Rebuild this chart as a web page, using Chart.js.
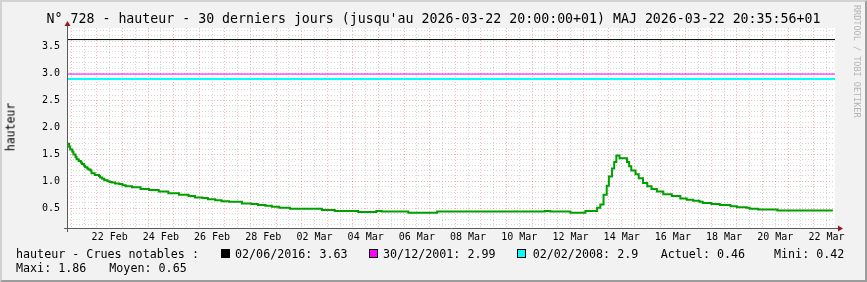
<!DOCTYPE html>
<html>
<head>
<meta charset="utf-8">
<script src="https://cdn.jsdelivr.net/npm/chart.js@4.4.1/dist/chart.umd.min.js"></script>
<style>
  html, body { margin: 0; padding: 0; background: #f2f2f2; }
  #wrap { position: relative; width: 867px; height: 282px; background: #f2f2f2; overflow: hidden;
          font-family: "DejaVu Sans Mono", monospace; color: #000; }
  #c { position: absolute; left: 0; top: 0; }
  .frame { position: absolute; left: 0; top: 0; width: 867px; height: 282px; box-sizing: border-box;
           border-top: 2px solid #d2d2d2; border-left: 2px solid #d2d2d2;
           border-right: 2px solid #9c9c9c; border-bottom: 2px solid #9c9c9c; pointer-events: none; }
  .title { position: absolute; left: 0; top: 11px; width: 867px; text-align: center;
           font-size: 13.25px; line-height: 15px; white-space: pre; }
  .ylab { position: absolute; left: 11px; top: 127px; font-size: 11.5px; line-height: 13px;
          transform: translate(-50%, -50%) rotate(-90deg); white-space: pre; }
  .mark { position: absolute; left: 852px; top: 5px; font-size: 8.5px; color: #b4b4b4;
          writing-mode: vertical-rl; white-space: pre; }
  .leg { position: absolute; font-size: 11.7px; line-height: 14px; white-space: pre; }
  .box { position: absolute; width: 9px; height: 9px; box-sizing: border-box; border: 1px solid #000; }
</style>
</head>
<body>
<div id="wrap">
  <canvas id="c" width="867" height="282"></canvas>
  <div class="title">N° 728 - hauteur - 30 derniers jours (jusqu'au 2026-03-22 20:00:00+01) MAJ 2026-03-22 20:35:56+01</div>
  <div class="ylab">hauteur</div>
  <div class="mark">RRDTOOL / TOBI OETIKER</div>
  <div id="legend"></div>
  <div class="frame"></div>
</div>
<script>
// --- DATA (hours since 2026-02-20 20:00) ---
const hours = [
  0, 2, 3, 5, 6, 8, 9, 11, 13, 14,
  16, 17, 19, 20, 22, 23, 26, 30, 31, 33,
  35, 38, 40, 42, 45, 49, 52, 55, 61, 69,
  77, 86, 95, 105, 114, 120, 127, 132, 139, 145,
  152, 164, 173, 179, 186, 192, 199, 209, 239, 251,
  273, 290, 295, 320, 347, 448, 453, 472, 486, 497,
  500, 503, 506, 508, 511, 513, 515, 518, 525, 527,
  529, 533, 536, 540, 544, 548, 553, 559, 567, 575,
  581, 587, 593, 596, 604, 612, 622, 628, 637, 640,
  648, 666, 692, 718
];
const hauteur = [
  1.78, 1.70, 1.64, 1.59, 1.55, 1.50, 1.45, 1.41, 1.38, 1.35,
  1.32, 1.29, 1.26, 1.24, 1.22, 1.20, 1.15, 1.12, 1.10, 1.07,
  1.05, 1.02, 1.00, 0.99, 0.98, 0.96, 0.95, 0.93, 0.91, 0.89,
  0.86, 0.84, 0.81, 0.78, 0.75, 0.73, 0.70, 0.69, 0.67, 0.65,
  0.63, 0.62, 0.59, 0.58, 0.56, 0.55, 0.53, 0.51, 0.49, 0.47,
  0.45, 0.43, 0.45, 0.44, 0.42, 0.44, 0.45, 0.44, 0.42, 0.45,
  0.51, 0.57, 0.75, 0.92, 1.09, 1.24, 1.36, 1.48, 1.43, 1.36,
  1.28, 1.20, 1.13, 1.06, 0.97, 0.91, 0.86, 0.81, 0.76, 0.73,
  0.68, 0.66, 0.64, 0.62, 0.60, 0.58, 0.56, 0.54, 0.52, 0.51,
  0.49, 0.48, 0.46, 0.46
];

// notable floods (horizontal rules)
const crueDates = ['02/06/2016', '30/12/2001', '02/02/2008'];
const crueValues = [3.63, 2.99, 2.9];
const crueColors = ['#000000', '#ff00ff', '#00ffff'];

const xLabels = ['22 Feb', '24 Feb', '26 Feb', '28 Feb', '02 Mar', '04 Mar', '06 Mar', '08 Mar',
                 '10 Mar', '12 Mar', '14 Mar', '16 Mar', '18 Mar', '20 Mar', '22 Mar'];

const actuel = 0.46, mini = 0.42, maxi = 1.86, moyen = 0.65;

// =========================================================
// LEGEND (html text)
// =========================================================
const legend = document.getElementById('legend');
function addText(txt, x, y) {
  const d = document.createElement('div');
  d.className = 'leg';
  d.style.left = x + 'px';
  d.style.top = y + 'px';
  d.textContent = txt;
  legend.appendChild(d);
}
const boxX = [221, 369, 517];
const crueTextX = [235, 383, 532.7];
addText('hauteur - Crues notables :', 16, 247);
crueDates.forEach((d, i) => {
  const b = document.createElement('div');
  b.className = 'box';
  b.style.left = boxX[i] + 'px';
  b.style.top = '249px';
  b.style.background = crueColors[i];
  legend.appendChild(b);
  addText(d + ': ' + crueValues[i], crueTextX[i], 247);
});
addText('Actuel: ' + actuel.toFixed(2), 660.7, 247);
addText('Mini: ' + mini.toFixed(2), 774, 247);
addText('Maxi: ' + maxi.toFixed(2), 16, 261);
addText('Moyen: ' + moyen.toFixed(2), 109.3, 261);

// =========================================================
// CHART
// =========================================================
const T_END = 720;
const isMajorY = v => Math.abs(v * 2 - Math.round(v * 2)) < 1e-6;
const isMidnight = h => ((h - 4) % 24 + 24) % 24 === 0;

const rrdBack = {
  id: 'rrdBack',
  beforeDraw(chart) {
    const { ctx, chartArea: a } = chart;
    ctx.save();
    ctx.fillStyle = '#ffffff';
    ctx.fillRect(a.left, a.top, a.right - a.left, a.bottom - a.top);
    ctx.restore();
  },
  afterDraw(chart) {
    const { ctx, chartArea: a } = chart;
    ctx.save();
    ctx.strokeStyle = '#5a5a5a';
    ctx.lineWidth = 1;
    ctx.beginPath();
    ctx.moveTo(a.left - 3, a.bottom + 0.5);
    ctx.lineTo(a.right + 4, a.bottom + 0.5);
    ctx.moveTo(a.left + 0.5, a.bottom + 4);
    ctx.lineTo(a.left + 0.5, a.top - 3);
    ctx.stroke();
    ctx.fillStyle = '#8c1c1c';
    ctx.beginPath();
    ctx.moveTo(a.right + 8, a.bottom + 0.5);
    ctx.lineTo(a.right + 3, a.bottom - 2.5);
    ctx.lineTo(a.right + 3, a.bottom + 3.5);
    ctx.closePath();
    ctx.fill();
    ctx.beginPath();
    ctx.moveTo(a.left + 0.5, a.top - 7);
    ctx.lineTo(a.left - 2.5, a.top - 2);
    ctx.lineTo(a.left + 3.5, a.top - 2);
    ctx.closePath();
    ctx.fill();
    ctx.restore();
  }
};

const datasets = [{
  label: 'hauteur',
  data: hours.map((h, i) => ({ x: h, y: hauteur[i] })),
  borderColor: '#00a000',
  borderWidth: 2,
  pointRadius: 0,
  stepped: 'after',
  fill: false
}];
crueValues.forEach((v, i) => {
  datasets.push({
    label: crueDates[i],
    data: [{ x: 0, y: v }, { x: T_END, y: v }],
    borderColor: crueColors[i],
    borderWidth: i === 2 ? 2 : 1,
    pointRadius: 0,
    fill: false
  });
});

new Chart(document.getElementById('c'), {
  type: 'line',
  data: { datasets },
  plugins: [rrdBack],
  options: {
    responsive: false,
    animation: false,
    events: [],
    layout: { padding: { left: 0, top: 28, right: 32, bottom: 34 } },
    plugins: { legend: { display: false }, tooltip: { enabled: false } },
    scales: {
      x: {
        type: 'linear', min: 0, max: T_END,
        afterFit: s => { s.height = 20; },
        afterBuildTicks: s => {
          const t = [];
          for (let h = 4; h <= T_END; h += 12) t.push({ value: h });
          s.ticks = t;
        },
        grid: {
          drawTicks: false,
          color: c => isMidnight(c.tick.value) ? 'rgba(235,80,80,0.42)' : 'rgba(150,150,150,0.4)'
        },
        border: { display: false, dash: [1, 2] },
        ticks: {
          autoSkip: false, maxRotation: 0, padding: 3, color: '#000',
          font: { family: 'DejaVu Sans Mono', size: 10 },
          callback: v => {
            const k = (v - 40) / 48;
            return Number.isInteger(k) && k >= 0 && k < xLabels.length ? xLabels[k] : '';
          }
        }
      },
      y: {
        type: 'linear', min: 0.135, max: 3.845,
        afterFit: s => { s.width = 67; },
        grid: {
          drawTicks: false,
          color: c => isMajorY(c.tick.value) ? 'rgba(235,80,80,0.42)' : 'rgba(150,150,150,0.4)'
        },
        border: { display: false, dash: [1, 2] },
        ticks: {
          stepSize: 0.1, includeBounds: false, autoSkip: false, padding: 7, color: '#000',
          font: { family: 'DejaVu Sans Mono', size: 10 },
          callback: v => isMajorY(v) ? v.toFixed(1) : ''
        }
      }
    }
  }
});
</script>
</body>
</html>
